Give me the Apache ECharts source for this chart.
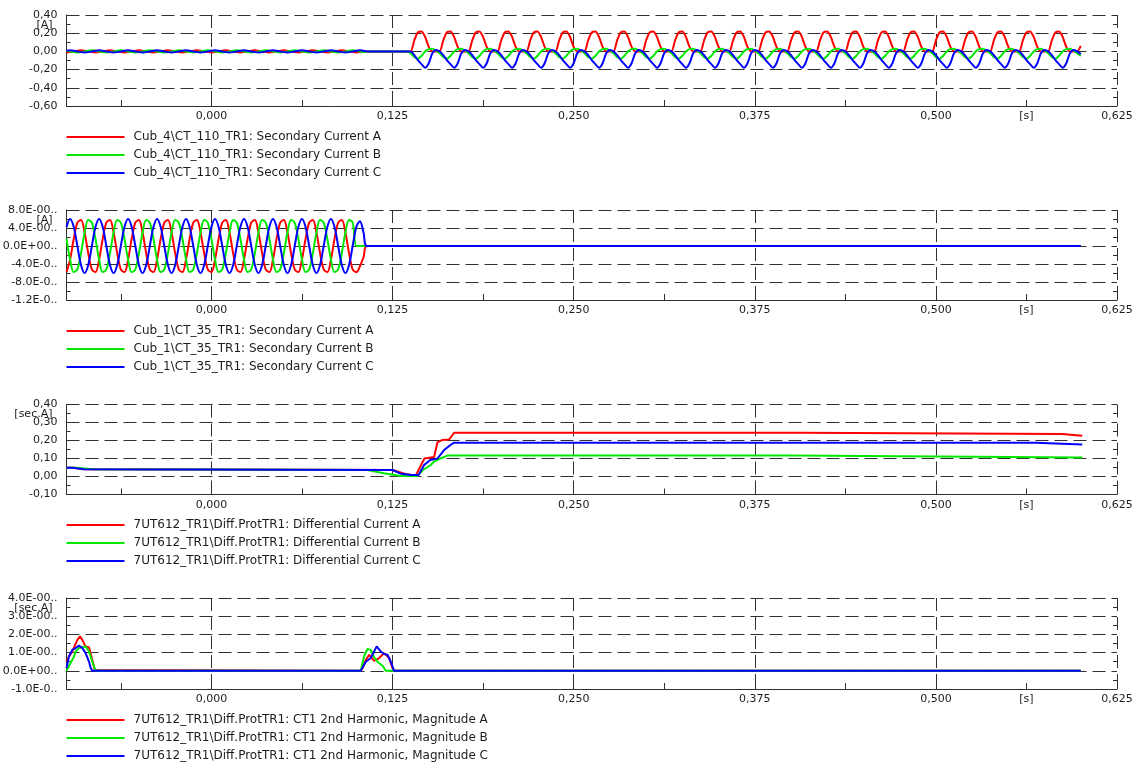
<!DOCTYPE html>
<html>
<head>
<meta charset="utf-8">
<title>Fault record TR1</title>
<script src="https://cdn.jsdelivr.net/npm/echarts@6.0.0/dist/echarts.min.js"></script>
<style>
html, body { margin: 0; padding: 0; background: #fff; }
#chart { width: 1140px; height: 765px; }
</style>
</head>
<body>
<div id="chart"></div>
<script>
// ---- time base of the sampled records [s] ----
var T0 = -0.1, DT = 0.0025, T_END = 0.6;

// ---- time axis ----
var timeTicks  = [0, 0.125, 0.25, 0.375, 0.5, 0.5625, 0.625];
var timeLabels = ['0,000', '0,125', '0,250', '0,375', '0,500', '[s]', '0,625'];
var timeMinor  = [-0.0625, 0, 0.0625, 0.125, 0.1875, 0.25, 0.3125, 0.375, 0.4375, 0.5, 0.5625, 0.625];
var timeGrid   = [0, 0.125, 0.25, 0.375, 0.5, 0.625];

// ---- y tick labels (top to bottom) ----
var yLabels1 = ['0,40', '0,20', '0,00', '-0,20', '-0,40', '-0,60'];
var yLabels2 = ['8.0E-00..', '4.0E-00..', '0.0E+00..', '-4.0E-0..', '-8.0E-0..', '-1.2E-0..'];
var yLabels3 = ['0,40', '0,30', '0,20', '0,10', '0,00', '-0,10'];
var yLabels4 = ['4.0E-00..', '3.0E-00..', '2.0E-00..', '1.0E-00..', '0.0E+00..', '-1.0E-0..'];

// ---- series names ----
var names1 = ['Cub_4\\CT_110_TR1: Secondary Current A', 'Cub_4\\CT_110_TR1: Secondary Current B', 'Cub_4\\CT_110_TR1: Secondary Current C'];
var names2 = ['Cub_1\\CT_35_TR1: Secondary Current A', 'Cub_1\\CT_35_TR1: Secondary Current B', 'Cub_1\\CT_35_TR1: Secondary Current C'];
var names3 = ['7UT612_TR1\\Diff.ProtTR1: Differential Current A', '7UT612_TR1\\Diff.ProtTR1: Differential Current B', '7UT612_TR1\\Diff.ProtTR1: Differential Current C'];
var names4 = ['7UT612_TR1\\Diff.ProtTR1: CT1 2nd Harmonic, Magnitude A', '7UT612_TR1\\Diff.ProtTR1: CT1 2nd Harmonic, Magnitude B', '7UT612_TR1\\Diff.ProtTR1: CT1 2nd Harmonic, Magnitude C'];

// ---- Cub_4 CT_110 secondary currents, one sample every DT from T0 ----
var cub4A = [
  -0.012,-0.008,0,0.008,0.012,0.008,0,-0.008,
  -0.012,-0.008,0,0.008,0.012,0.008,0,-0.008,
  -0.012,-0.008,0,0.008,0.012,0.008,0,-0.008,
  -0.012,-0.008,0,0.008,0.012,0.008,0,-0.008,
  -0.012,-0.008,0,0.008,0.012,0.008,0,-0.008,
  -0.012,-0.008,0,0.008,0.012,0.008,0,-0.008,
  -0.012,-0.008,0,0.008,0.012,0.008,0,-0.008,
  -0.012,-0.008,0,0.008,0.012,0.008,0,-0.008,
  -0.012,-0.008,0,0.008,0.012,0.008,0,-0.008,
  -0.012,-0.008,0,0.008,0.012,0.008,0,-0.008,
  -0.012,-0.008,0,0,0,0,0,0,
  0,0,0,0,0,0,0,
  0,0.12,0.21,0.22,0.16,0.05,0,0,
  0,0.12,0.21,0.22,0.16,0.05,0,0,
  0,0.12,0.21,0.22,0.16,0.05,0,0,
  0,0.12,0.21,0.22,0.16,0.05,0,0,
  0,0.12,0.21,0.22,0.16,0.05,0,0,
  0,0.12,0.21,0.22,0.16,0.05,0,0,
  0,0.12,0.21,0.22,0.16,0.05,0,0,
  0,0.12,0.21,0.22,0.16,0.05,0,0,
  0,0.12,0.21,0.22,0.16,0.05,0,0,
  0,0.12,0.21,0.22,0.16,0.05,0,0,
  0,0.12,0.21,0.22,0.16,0.05,0,0,
  0,0.12,0.21,0.22,0.16,0.05,0,0,
  0,0.12,0.21,0.22,0.16,0.05,0,0,
  0,0.12,0.21,0.22,0.16,0.05,0,0,
  0,0.12,0.21,0.22,0.16,0.05,0,0,
  0,0.12,0.21,0.22,0.16,0.05,0,0,
  0,0.12,0.21,0.22,0.16,0.05,0,0,
  0,0.12,0.21,0.22,0.16,0.05,0,0,
  0,0.12,0.21,0.22,0.16,0.05,0,0,
  0,0.12,0.21,0.22,0.16,0.05,0,0,
  0,0.12,0.21,0.22,0.16,0.05,0,0,
  0,0.12,0.21,0.22,0.16,0.05,0,0,
  0,0.12,0.21,0.22,0.16,0.05,0,0,
  0,0.06
];
var cub4B = [
  0.008,0,-0.008,-0.012,-0.008,0,0.008,0.012,
  0.008,0,-0.008,-0.012,-0.008,0,0.008,0.012,
  0.008,0,-0.008,-0.012,-0.008,0,0.008,0.012,
  0.008,0,-0.008,-0.012,-0.008,0,0.008,0.012,
  0.008,0,-0.008,-0.012,-0.008,0,0.008,0.012,
  0.008,0,-0.008,-0.012,-0.008,0,0.008,0.012,
  0.008,0,-0.008,-0.012,-0.008,0,0.008,0.012,
  0.008,0,-0.008,-0.012,-0.008,0,0.008,0.012,
  0.008,0,-0.008,-0.012,-0.008,0,0.008,0.012,
  0.008,0,-0.008,-0.012,-0.008,0,0.008,0.012,
  0.008,0,-0.008,0,0,0,0,0,
  0,0,0,0,0,0,0,
  -0.02,-0.06,-0.08,-0.05,0,0.025,0.03,0.01,
  -0.02,-0.06,-0.08,-0.05,0,0.025,0.03,0.01,
  -0.02,-0.06,-0.08,-0.05,0,0.025,0.03,0.01,
  -0.02,-0.06,-0.08,-0.05,0,0.025,0.03,0.01,
  -0.02,-0.06,-0.08,-0.05,0,0.025,0.03,0.01,
  -0.02,-0.06,-0.08,-0.05,0,0.025,0.03,0.01,
  -0.02,-0.06,-0.08,-0.05,0,0.025,0.03,0.01,
  -0.02,-0.06,-0.08,-0.05,0,0.025,0.03,0.01,
  -0.02,-0.06,-0.08,-0.05,0,0.025,0.03,0.01,
  -0.02,-0.06,-0.08,-0.05,0,0.025,0.03,0.01,
  -0.02,-0.06,-0.08,-0.05,0,0.025,0.03,0.01,
  -0.02,-0.06,-0.08,-0.05,0,0.025,0.03,0.01,
  -0.02,-0.06,-0.08,-0.05,0,0.025,0.03,0.01,
  -0.02,-0.06,-0.08,-0.05,0,0.025,0.03,0.01,
  -0.02,-0.06,-0.08,-0.05,0,0.025,0.03,0.01,
  -0.02,-0.06,-0.08,-0.05,0,0.025,0.03,0.01,
  -0.02,-0.06,-0.08,-0.05,0,0.025,0.03,0.01,
  -0.02,-0.06,-0.08,-0.05,0,0.025,0.03,0.01,
  -0.02,-0.06,-0.08,-0.05,0,0.025,0.03,0.01,
  -0.02,-0.06,-0.08,-0.05,0,0.025,0.03,0.01,
  -0.02,-0.06,-0.08,-0.05,0,0.025,0.03,0.01,
  -0.02,-0.06,-0.08,-0.05,0,0.025,0.03,0.01,
  -0.02,-0.06,-0.08,-0.05,0,0.025,0.03,0.01,
  -0.02,-0.05
];
var cub4C = [
  0.008,0.012,0.008,0,-0.008,-0.012,-0.008,0,
  0.008,0.012,0.008,0,-0.008,-0.012,-0.008,0,
  0.008,0.012,0.008,0,-0.008,-0.012,-0.008,0,
  0.008,0.012,0.008,0,-0.008,-0.012,-0.008,0,
  0.008,0.012,0.008,0,-0.008,-0.012,-0.008,0,
  0.008,0.012,0.008,0,-0.008,-0.012,-0.008,0,
  0.008,0.012,0.008,0,-0.008,-0.012,-0.008,0,
  0.008,0.012,0.008,0,-0.008,-0.012,-0.008,0,
  0.008,0.012,0.008,0,-0.008,-0.012,-0.008,0,
  0.008,0.012,0.008,0,-0.008,-0.012,-0.008,0,
  0.008,0.012,0.008,0,0,0,0,0,
  0,0,0,0,0,0,0,
  0,-0.04,-0.095,-0.14,-0.18,-0.13,-0.02,0.015,
  0,-0.04,-0.095,-0.14,-0.18,-0.13,-0.02,0.015,
  0,-0.04,-0.095,-0.14,-0.18,-0.13,-0.02,0.015,
  0,-0.04,-0.095,-0.14,-0.18,-0.13,-0.02,0.015,
  0,-0.04,-0.095,-0.14,-0.18,-0.13,-0.02,0.015,
  0,-0.04,-0.095,-0.14,-0.18,-0.13,-0.02,0.015,
  0,-0.04,-0.095,-0.14,-0.18,-0.13,-0.02,0.015,
  0,-0.04,-0.095,-0.14,-0.18,-0.13,-0.02,0.015,
  0,-0.04,-0.095,-0.14,-0.18,-0.13,-0.02,0.015,
  0,-0.04,-0.095,-0.14,-0.18,-0.13,-0.02,0.015,
  0,-0.04,-0.095,-0.14,-0.18,-0.13,-0.02,0.015,
  0,-0.04,-0.095,-0.14,-0.18,-0.13,-0.02,0.015,
  0,-0.04,-0.095,-0.14,-0.18,-0.13,-0.02,0.015,
  0,-0.04,-0.095,-0.14,-0.18,-0.13,-0.02,0.015,
  0,-0.04,-0.095,-0.14,-0.18,-0.13,-0.02,0.015,
  0,-0.04,-0.095,-0.14,-0.18,-0.13,-0.02,0.015,
  0,-0.04,-0.095,-0.14,-0.18,-0.13,-0.02,0.015,
  0,-0.04,-0.095,-0.14,-0.18,-0.13,-0.02,0.015,
  0,-0.04,-0.095,-0.14,-0.18,-0.13,-0.02,0.015,
  0,-0.04,-0.095,-0.14,-0.18,-0.13,-0.02,0.015,
  0,-0.04,-0.095,-0.14,-0.18,-0.13,-0.02,0.015,
  0,-0.04,-0.095,-0.14,-0.18,-0.13,-0.02,0.015,
  0,-0.04,-0.095,-0.14,-0.18,-0.13,-0.02,0.015,
  0,-0.03
];

// ---- Cub_1 CT_35 secondary currents, one sample every DT from T0, last value held to T_END ----
var cub1A = [
  -5.8,-3.0,1.6,5.2,5.8,3.0,-1.6,-5.2,
  -5.8,-3.0,1.6,5.2,5.8,3.0,-1.6,-5.2,
  -5.8,-3.0,1.6,5.2,5.8,3.0,-1.6,-5.2,
  -5.8,-3.0,1.6,5.2,5.8,3.0,-1.6,-5.2,
  -5.8,-3.0,1.6,5.2,5.8,3.0,-1.6,-5.2,
  -5.8,-3.0,1.6,5.2,5.8,3.0,-1.6,-5.2,
  -5.8,-3.0,1.6,5.2,5.8,3.0,-1.6,-5.2,
  -5.8,-3.0,1.6,5.2,5.8,3.0,-1.6,-5.2,
  -5.8,-3.0,1.6,5.2,5.8,3.0,-1.6,-5.2,
  -5.8,-3.0,1.6,5.2,5.8,3.0,-1.6,-5.2,
  -5.8,-4.5,-2.5,0
];
var cub1B = [
  1.6,-3.0,-5.8,-5.2,-1.6,3.0,5.8,5.2,
  1.6,-3.0,-5.8,-5.2,-1.6,3.0,5.8,5.2,
  1.6,-3.0,-5.8,-5.2,-1.6,3.0,5.8,5.2,
  1.6,-3.0,-5.8,-5.2,-1.6,3.0,5.8,5.2,
  1.6,-3.0,-5.8,-5.2,-1.6,3.0,5.8,5.2,
  1.6,-3.0,-5.8,-5.2,-1.6,3.0,5.8,5.2,
  1.6,-3.0,-5.8,-5.2,-1.6,3.0,5.8,5.2,
  1.6,-3.0,-5.8,-5.2,-1.6,3.0,5.8,5.2,
  1.6,-3.0,-5.8,-5.2,-1.6,3.0,5.8,5.2,
  1.6,-3.0,-5.8,-5.2,-1.6,3.0,5.8,5.2,
  0,0,0,0
];
var cub1C = [
  4.2,6,4.2,0,-4.2,-6,-4.2,0,
  4.2,6,4.2,0,-4.2,-6,-4.2,0,
  4.2,6,4.2,0,-4.2,-6,-4.2,0,
  4.2,6,4.2,0,-4.2,-6,-4.2,0,
  4.2,6,4.2,0,-4.2,-6,-4.2,0,
  4.2,6,4.2,0,-4.2,-6,-4.2,0,
  4.2,6,4.2,0,-4.2,-6,-4.2,0,
  4.2,6,4.2,0,-4.2,-6,-4.2,0,
  4.2,6,4.2,0,-4.2,-6,-4.2,0,
  4.2,6,4.2,0,-4.2,-6,-4.2,0,
  4.2,5.5,3.0,0
];

// ---- differential currents [t, value] ----
var diffA = [[-0.1,0.049],[-0.095,0.049],[-0.094,0.04],[-0.088,0.04],[-0.087,0.036],[0.125,0.036],[0.13,0.024],[0.135,0.012],[0.141,0.005],
  [0.147,0.1],[0.1537,0.108],[0.156,0.19],[0.1595,0.203],[0.164,0.205],[0.1675,0.243],[0.407,0.243],[0.408,0.236],[0.587,0.236],[0.588,0.226],[0.601,0.226]];
var diffB = [[-0.1,0.049],[-0.093,0.049],[-0.092,0.04],[-0.082,0.04],[-0.081,0.036],[0.1077,0.036],[0.119,0.018],[0.1307,0.003],[0.142,0.003],
  [0.146,0.036],[0.1514,0.064],[0.1537,0.083],[0.158,0.1],[0.163,0.116],[0.401,0.116],[0.402,0.106],[0.601,0.106]];
var diffC = [[-0.1,0.049],[-0.096,0.049],[-0.095,0.04],[-0.088,0.04],[-0.087,0.036],[0.125,0.036],[0.131,0.015],[0.1376,0.008],[0.143,0.008],
  [0.1468,0.064],[0.151,0.092],[0.156,0.1],[0.1606,0.147],[0.165,0.175],[0.1675,0.188],[0.569,0.188],[0.57,0.178],[0.601,0.178]];

// ---- 2nd harmonic magnitudes [t, value] ----
var harmA = [[-0.1,0.51],[-0.0983,0.79],[-0.096,1.06],[-0.0925,1.7],[-0.0907,1.89],[-0.0891,1.7],[-0.0868,1.33],[-0.0845,1.3],[-0.0822,0.6],[-0.0805,0.05],[-0.08,0],
  [0.103,0],[0.1043,0.15],[0.1066,0.6],[0.1089,0.88],[0.1123,0.55],[0.1158,0.7],[0.1192,0.97],[0.1227,0.7],[0.125,0.15],[0.1261,0],[0.6,0]];
var harmB = [[-0.1,0],[-0.0948,0.79],[-0.0937,1.06],[-0.0914,1.25],[-0.0868,1.34],[-0.0845,1.06],[-0.0822,0.51],[-0.0799,0],
  [0.1031,0],[0.1054,0.8],[0.1077,1.2],[0.11,1.15],[0.1119,0.8],[0.1146,0.5],[0.1181,0.28],[0.1204,0],[0.6,0]];
var harmC = [[-0.1,0.15],[-0.0983,0.79],[-0.096,1.15],[-0.0937,1.25],[-0.0914,1.38],[-0.0891,1.25],[-0.0868,0.97],[-0.0845,0.51],[-0.0833,0.15],[-0.0822,0],
  [0.1031,0],[0.1066,0.5],[0.11,0.7],[0.1123,1.06],[0.1141,1.34],[0.1169,1.06],[0.1192,0.92],[0.1215,0.88],[0.1238,0.5],[0.1261,0],[0.6,0]];

// ---- layout / styling ----
var phaseColors = ['#ff0000', '#00e800', '#0000ff'];
var FONT = 'DejaVu Sans';
var TEXT = '#1c1c1c';
var AXIS = '#303030';
var DASH = [13, 6];

function sampled(vals) {
  var d = vals.map(function (v, i) { return [+(T0 + i * DT).toFixed(5), v]; });
  if (d[d.length - 1][0] < T_END) d.push([T_END, vals[vals.length - 1]]);
  return d;
}

function timeLabel(v) {
  for (var i = 0; i < timeTicks.length; i++) {
    if (Math.abs(timeTicks[i] - v) < 1e-6) return timeLabels[i];
  }
  return '';
}

var panels = [
  { top: 15,    height: 91,   min: -0.6, max: 0.4, step: 0.2, labels: yLabels1, unit: '[A]',     names: names1, data: [sampled(cub4A), sampled(cub4B), sampled(cub4C)], smooth: 0.25, legendTop: 130 },
  { top: 210,   height: 90,   min: -12,  max: 8,   step: 4,   labels: yLabels2, unit: '[A]',     names: names2, data: [sampled(cub1A), sampled(cub1B), sampled(cub1C)], smooth: 0.35, legendTop: 324 },
  { top: 404.5, height: 90,   min: -0.1, max: 0.4, step: 0.1, labels: yLabels3, unit: '[sec.A]', names: names3, data: [diffA, diffB, diffC], smooth: false, legendTop: 518 },
  { top: 598,   height: 91,   min: -1,   max: 4,   step: 1,   labels: yLabels4, unit: '[sec.A]', names: names4, data: [harmA, harmB, harmC], smooth: false, legendTop: 713 }
];

var grids = [], xAxes = [], yAxes = [], series = [], legends = [];

panels.forEach(function (p, g) {
  grids.push({ left: 66.5, right: 23, top: p.top, height: p.height, outerBoundsMode: 'none', containLabel: false });

  // visible time axis
  xAxes.push({
    type: 'value', gridIndex: g, min: -0.1, max: 0.625, position: 'bottom',
    axisLine: { show: true, onZero: false, lineStyle: { color: AXIS, width: 1 } },
    axisTick: { show: true, inside: true, length: 6, customValues: timeMinor, lineStyle: { color: AXIS } },
    axisLabel: { show: true, customValues: timeTicks, formatter: timeLabel, margin: 5,
                 fontFamily: FONT, fontSize: 11, color: TEXT },
    splitLine: { show: false }
  });
  // vertical dashed grid lines
  xAxes.push({
    type: 'value', gridIndex: g, min: -0.1, max: 0.625, position: 'top',
    axisLine: { show: false, onZero: false },
    axisTick: { show: false, customValues: timeGrid },
    axisLabel: { show: false },
    splitLine: { show: true, lineStyle: { type: DASH, color: AXIS, width: 1 } }
  });

  yAxes.push({
    type: 'value', gridIndex: g, min: p.min, max: p.max, interval: p.step, position: 'left',
    axisLine: { show: true, onZero: false, lineStyle: { color: AXIS, width: 1 } },
    axisTick: { show: true, inside: true, length: 4, lineStyle: { color: AXIS } },
    minorTick: { show: true, splitNumber: 2, length: 4, lineStyle: { color: AXIS } },
    axisLabel: {
      margin: 9, fontFamily: FONT, fontSize: 11, color: TEXT,
      formatter: (function (labels, max, step) {
        return function (v) { return labels[Math.round((max - v) / step)] || ''; };
      })(p.labels, p.max, p.step)
    },
    splitLine: { show: true, lineStyle: { type: DASH, color: AXIS, width: 1 } },
    name: p.unit, nameLocation: 'end', nameGap: -10, nameMoveOverlap: false,
    nameTextStyle: { align: 'right', verticalAlign: 'middle', padding: [0, 14, 0, 0], fontFamily: FONT, fontSize: 11, color: TEXT }
  });
  yAxes.push({
    type: 'value', gridIndex: g, min: p.min, max: p.max, interval: p.step, position: 'right',
    axisLine: { show: false, onZero: false },
    axisTick: { show: true, inside: true, length: 4, lineStyle: { color: AXIS } },
    minorTick: { show: true, splitNumber: 2, length: 4, lineStyle: { color: AXIS } },
    axisLabel: { show: false },
    splitLine: { show: false }
  });

  p.names.forEach(function (name, k) {
    series.push({
      name: name, type: 'line', xAxisIndex: g * 2, yAxisIndex: g * 2,
      data: p.data[k], symbol: 'none', showSymbol: false, smooth: p.smooth,
      lineStyle: { width: 2, color: phaseColors[k] }, itemStyle: { color: phaseColors[k] },
      clip: true, z: 3 + k
    });
  });

  legends.push({
    data: p.names, orient: 'vertical', left: 66.5, top: p.legendTop, padding: 0,
    icon: 'rect', itemWidth: 58, itemHeight: 2, itemGap: 4, selectedMode: false,
    textStyle: { fontFamily: FONT, fontSize: 12, color: TEXT, lineHeight: 14, padding: [0, 0, 0, 4] }
  });
});

var myChart = echarts.init(document.getElementById('chart'), null, { renderer: 'canvas' });
myChart.setOption({
  backgroundColor: '#ffffff',
  animation: false,
  grid: grids,
  xAxis: xAxes,
  yAxis: yAxes,
  legend: legends,
  series: series
});
</script>
</body>
</html>
